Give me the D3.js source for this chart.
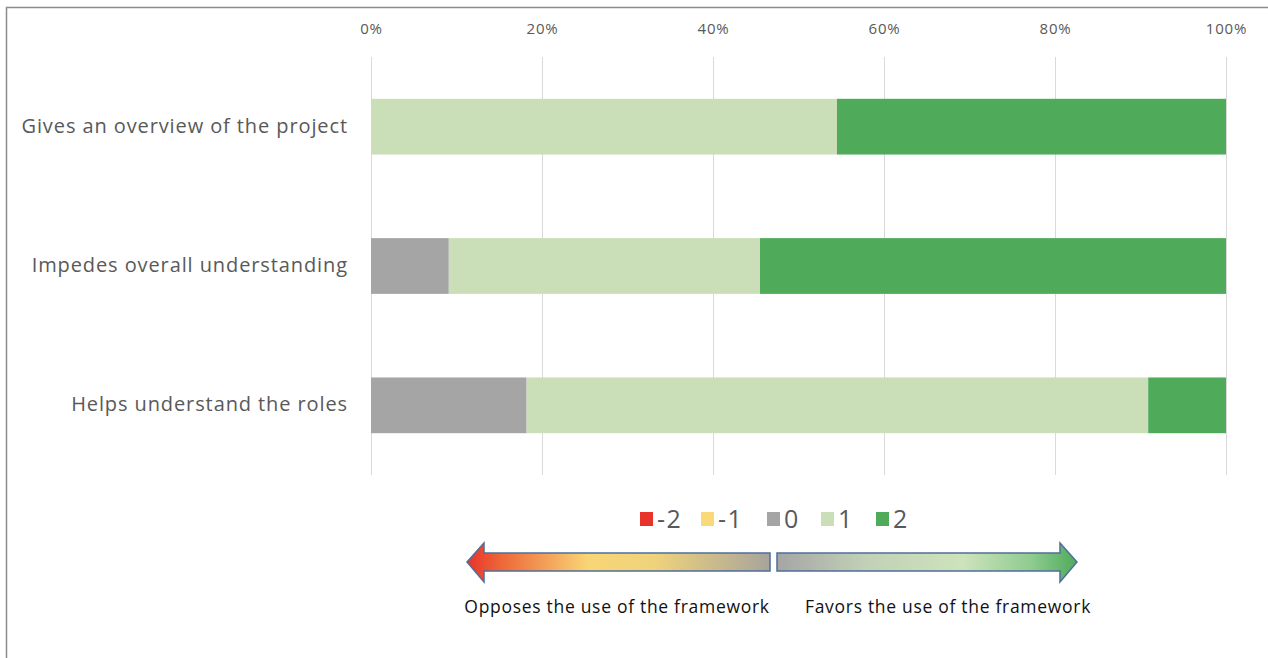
<!DOCTYPE html>
<html>
<head>
<meta charset="utf-8">
<script src="https://cdn.jsdelivr.net/npm/d3@7/dist/d3.min.js"></script>
<style>
  html, body { margin: 0; padding: 0; background: #fff; }
  svg { display: block; }
  text { font-family: "Open Sans", sans-serif; }
</style>
</head>
<body>
<svg id="chart" width="1268" height="658"></svg>
<script>
// Survey statements (top to bottom)
const categories = [
  "Gives an overview of the project",
  "Impedes overall understanding",
  "Helps understand the roles"
];
// Likert levels and their colours
const levels = ["-2", "-1", "0", "1", "2"];
const levelColors = ["#E8332A", "#FAD979", "#A5A5A5", "#CADFB8", "#4FAA5A"];
// Share of answers (%) per level, one array per level, ordered like categories
const valuesMinus2 = [0, 0, 0];
const valuesMinus1 = [0, 0, 0];
const values0      = [0, 9.1, 18.2];
const values1      = [54.5, 36.4, 72.7];
const values2      = [45.5, 54.5, 9.1];
const tickValues = [0, 20, 40, 60, 80, 100];

const seriesValues = [valuesMinus2, valuesMinus1, values0, values1, values2];
const rows = categories.map((c, i) => {
  const r = { category: c };
  levels.forEach((l, j) => { r[l] = seriesValues[j][i]; });
  return r;
});
const stacked = d3.stack().keys(levels)(rows);

const svg = d3.select("#chart");

// outer frame (top and left edges)
svg.append("path")
  .attr("d", "M6.5,658 V7.5 H1268")
  .attr("fill", "none")
  .attr("stroke", "#8c8c8c")
  .attr("stroke-width", 1.5);

const x = d3.scaleLinear().domain([0, 100]).range([371, 1226]);
const y = d3.scaleBand().domain(categories).range([57, 475]).paddingInner(0.6).paddingOuter(0.3);

// vertical gridlines
svg.append("g")
  .selectAll("line")
  .data(tickValues)
  .join("line")
  .attr("x1", d => Math.round(x(d)) + 0.5)
  .attr("x2", d => Math.round(x(d)) + 0.5)
  .attr("y1", 57)
  .attr("y2", 475)
  .attr("stroke", "#D9D9D9")
  .attr("stroke-width", 1);

// top percentage axis
const xAxis = d3.axisTop(x).tickValues(tickValues).tickFormat(d => d + "%").tickSize(0).tickPadding(0);
const gx = svg.append("g").attr("transform", "translate(0,34)").call(xAxis);
gx.select(".domain").remove();
gx.selectAll("text")
  .attr("fill", "#595959")
  .style("font-size", "15px")
  .style("letter-spacing", "0.8px")
  .style("font-family", "'Open Sans', sans-serif");

// stacked bars
svg.append("g")
  .selectAll("g")
  .data(stacked)
  .join("g")
  .attr("fill", (d, i) => levelColors[i])
  .selectAll("rect")
  .data(d => d)
  .join("rect")
  .attr("x", d => x(d[0]))
  .attr("width", d => Math.max(0, x(d[1]) - x(d[0])))
  .attr("y", d => y(d.data.category))
  .attr("height", y.bandwidth());

// category labels
const gy = svg.append("g").attr("transform", "translate(348,0)")
  .call(d3.axisLeft(y).tickSize(0).tickPadding(0));
gy.select(".domain").remove();
gy.selectAll("text")
  .attr("fill", "#595959")
  .style("font-size", "20px")
  .style("letter-spacing", "0.9px")
  .style("font-family", "'Open Sans', sans-serif")
  .attr("dy", "0.3em");

// legend
const legendX = [640, 701, 767, 821, 876];
const legend = svg.append("g").selectAll("g")
  .data(levels)
  .join("g")
  .attr("transform", (d, i) => `translate(${legendX[i]},512)`);
legend.append("rect")
  .attr("width", 13).attr("height", 14)
  .attr("fill", (d, i) => levelColors[i]);
legend.append("text")
  .attr("x", 17).attr("y", 7).attr("dy", "0.36em")
  .attr("fill", "#595959")
  .style("font-size", "25px")
  .style("letter-spacing", "1.5px")
  .text(d => d);

// direction arrows with gradients
const defs = svg.append("defs");
const gradLeft = defs.append("linearGradient").attr("id", "gradOppose")
  .attr("x1", "0%").attr("x2", "100%");
[["0%", "#E8332A"], ["12%", "#EE6A3A"], ["40%", "#F8D676"], ["62%", "#EFD27C"], ["100%", "#A7A49C"]]
  .forEach(([o, c]) => gradLeft.append("stop").attr("offset", o).attr("stop-color", c));
const gradRight = defs.append("linearGradient").attr("id", "gradFavor")
  .attr("x1", "0%").attr("x2", "100%");
[["0%", "#A5A5A5"], ["30%", "#C2D1B7"], ["62%", "#CDE3BB"], ["85%", "#8ECB8F"], ["100%", "#4FAA5A"]]
  .forEach(([o, c]) => gradRight.append("stop").attr("offset", o).attr("stop-color", c));

const arrowY = 562;
svg.append("path")
  .attr("d", `M467,${arrowY} L484,${arrowY - 19} L484,${arrowY - 9} L770,${arrowY - 9} L770,${arrowY + 9} L484,${arrowY + 9} L484,${arrowY + 20} Z`)
  .attr("fill", "url(#gradOppose)")
  .attr("stroke", "#4F6F99")
  .attr("stroke-width", 1.5)
  .attr("stroke-linejoin", "miter");
svg.append("path")
  .attr("d", `M777,${arrowY - 9} L1060,${arrowY - 9} L1060,${arrowY - 19} L1077,${arrowY} L1060,${arrowY + 20} L1060,${arrowY + 9} L777,${arrowY + 9} Z`)
  .attr("fill", "url(#gradFavor)")
  .attr("stroke", "#4F6F99")
  .attr("stroke-width", 1.5)
  .attr("stroke-linejoin", "miter");

svg.append("text")
  .attr("x", 617).attr("y", 607).attr("dy", "0.35em")
  .attr("text-anchor", "middle")
  .attr("fill", "#111")
  .style("font-size", "17.5px")
  .style("letter-spacing", "0.7px")
  .text("Opposes the use of the framework");
svg.append("text")
  .attr("x", 948).attr("y", 607).attr("dy", "0.35em")
  .attr("text-anchor", "middle")
  .attr("fill", "#111")
  .style("font-size", "17.5px")
  .style("letter-spacing", "0.7px")
  .text("Favors the use of the framework");
</script>
</body>
</html>
